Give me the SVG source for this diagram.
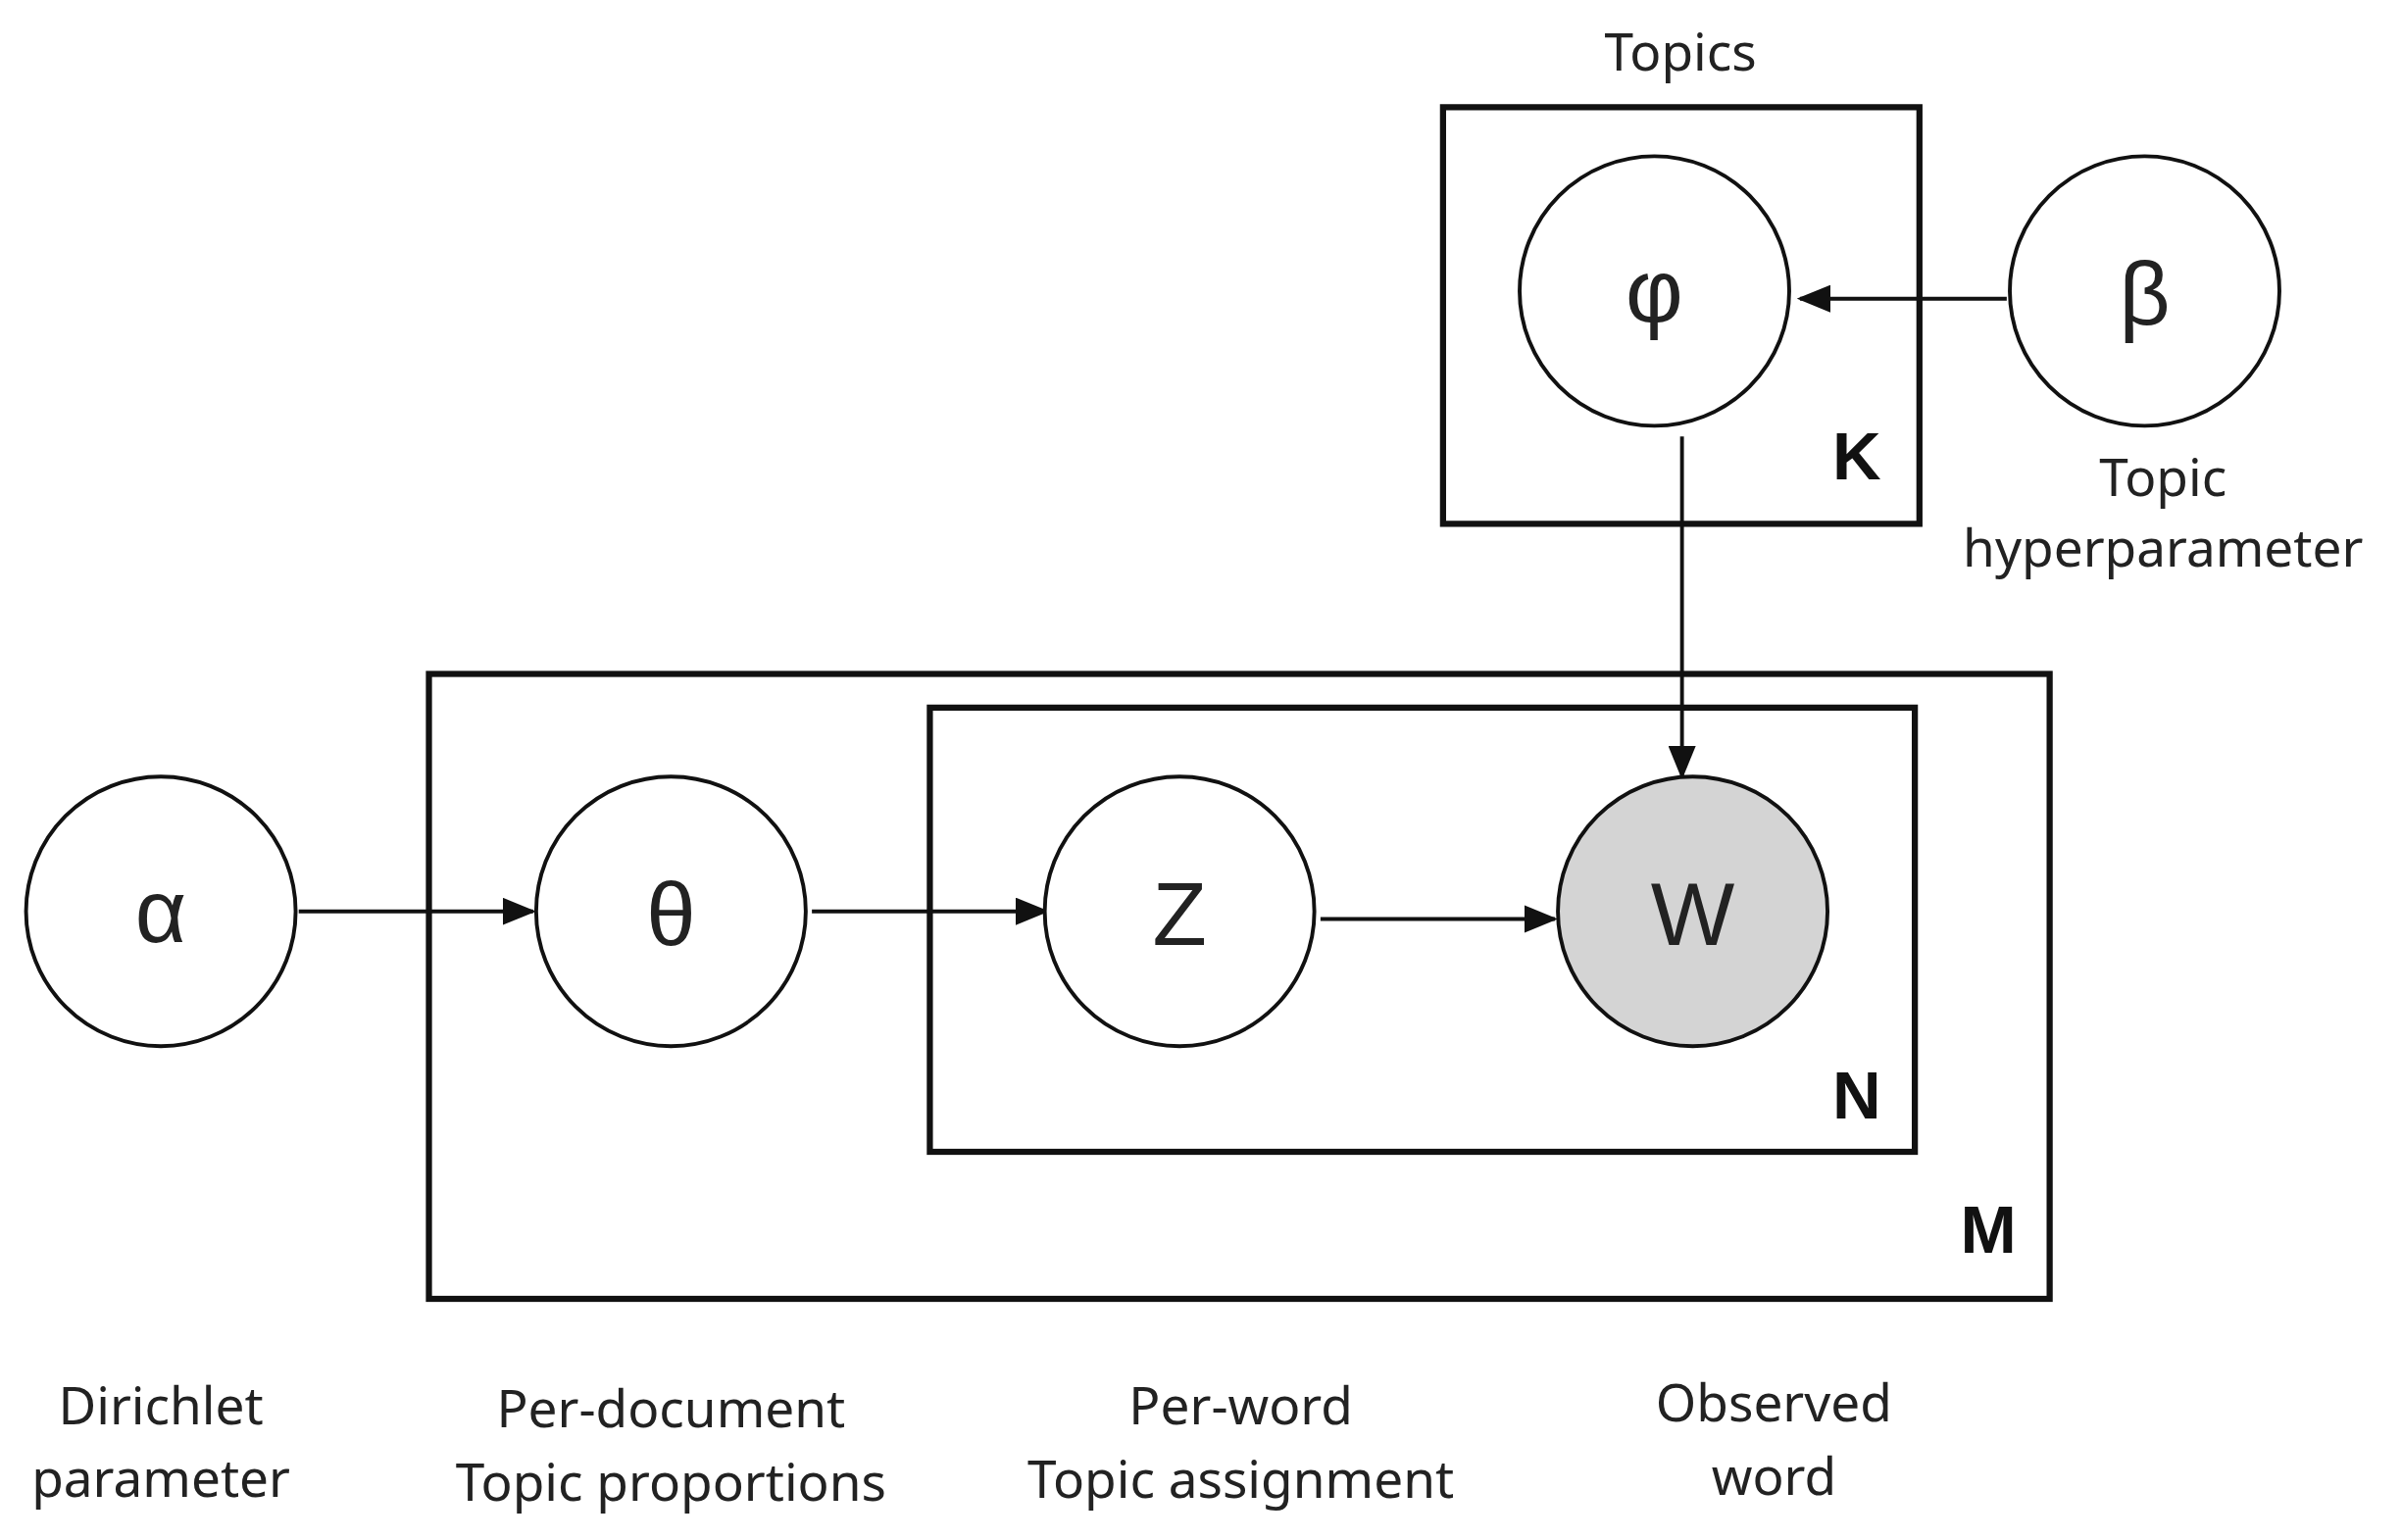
<svg xmlns="http://www.w3.org/2000/svg" width="2449" height="1571" viewBox="0 0 2449 1571">
<style>
.n{fill:#fff;stroke:#111;stroke-width:2.5}
.box{fill:none;stroke:#111;stroke-width:4}
.c{stroke:#111;stroke-width:2.5;fill:none}
.lbl{font-family:"Noto Sans","Liberation Sans",sans-serif;font-size:34px;fill:#222;text-anchor:middle}
.g{font-family:"Liberation Sans","DejaVu Sans",sans-serif;font-size:58px;fill:#222;text-anchor:middle}
.b{font-family:"Liberation Sans",sans-serif;font-weight:bold;font-size:44px;fill:#111;text-anchor:middle}
</style>
<defs><marker id="a" markerWidth="10" markerHeight="10" refX="9" refY="5" orient="auto" markerUnits="userSpaceOnUse" viewBox="0 0 10 10"><path d="M0,0 L10,5 L0,10 z" fill="#111"/></marker>
<marker id="m" markerWidth="22" markerHeight="18" refX="20" refY="9" orient="auto" markerUnits="userSpaceOnUse"><path d="M0,0 L22,9 L0,18 z" fill="#111"/></marker></defs>
<rect width="2449" height="1571" fill="#fff"/>
<g transform="scale(1.5625)">
<g id="plates">
<rect class="box" x="942" y="70" width="311" height="272"/>
<rect class="box" x="280" y="440" width="1058" height="408"/>
<rect class="box" x="607" y="462" width="643" height="290"/>
<text class="lbl" x="1097" y="46">Topics</text>
<text class="b" x="1212" y="313">K</text>
<text class="b" x="1212" y="730">N</text>
<text class="b" x="1298" y="818">M</text>
</g>
<g id="connectors">
<line class="c" x1="195" y1="595" x2="348" y2="595" marker-end="url(#m)"/>
<line class="c" x1="530" y1="595" x2="683" y2="595" marker-end="url(#m)"/>
<line class="c" x1="862" y1="600" x2="1015" y2="600" marker-end="url(#m)"/>
<line class="c" x1="1098" y1="285" x2="1098" y2="507" marker-end="url(#m)"/>
<line class="c" x1="1310" y1="195" x2="1175" y2="195" marker-end="url(#m)"/>
</g>
<g id="phi"><circle class="n" cx="1080" cy="190" r="88"/><text class="g" x="1080" y="210">φ</text></g>
<g id="beta"><circle class="n" cx="1400" cy="190" r="88"/><text class="g" x="1400" y="212">β</text>
<text class="lbl" x="1412" y="324">Topic</text><text class="lbl" x="1412" y="370">hyperparameter</text></g>
<g id="alpha"><circle class="n" cx="105" cy="595" r="88"/><text class="g" x="105" y="615">α</text></g>
<g id="theta"><circle class="n" cx="438" cy="595" r="88"/><text class="g" x="438" y="617">θ</text></g>
<g id="z"><circle class="n" cx="770" cy="595" r="88"/><text class="g" x="770" y="617">Z</text></g>
<g id="w"><circle class="n" cx="1105" cy="595" r="88" fill="#d4d4d4" style="fill:#d4d4d4"/><text class="g" x="1105" y="617">W</text></g>
<g id="labels">
<text class="lbl" x="105" y="930">Dirichlet</text><text class="lbl" x="105" y="977">parameter</text>
<text class="lbl" x="438" y="932">Per-document</text><text class="lbl" x="438" y="980">Topic proportions</text>
<text class="lbl" x="810" y="930">Per-word</text><text class="lbl" x="810" y="978">Topic assignment</text>
<text class="lbl" x="1158" y="928">Observed</text><text class="lbl" x="1158" y="976">word</text>
</g>
</g>
</svg>
